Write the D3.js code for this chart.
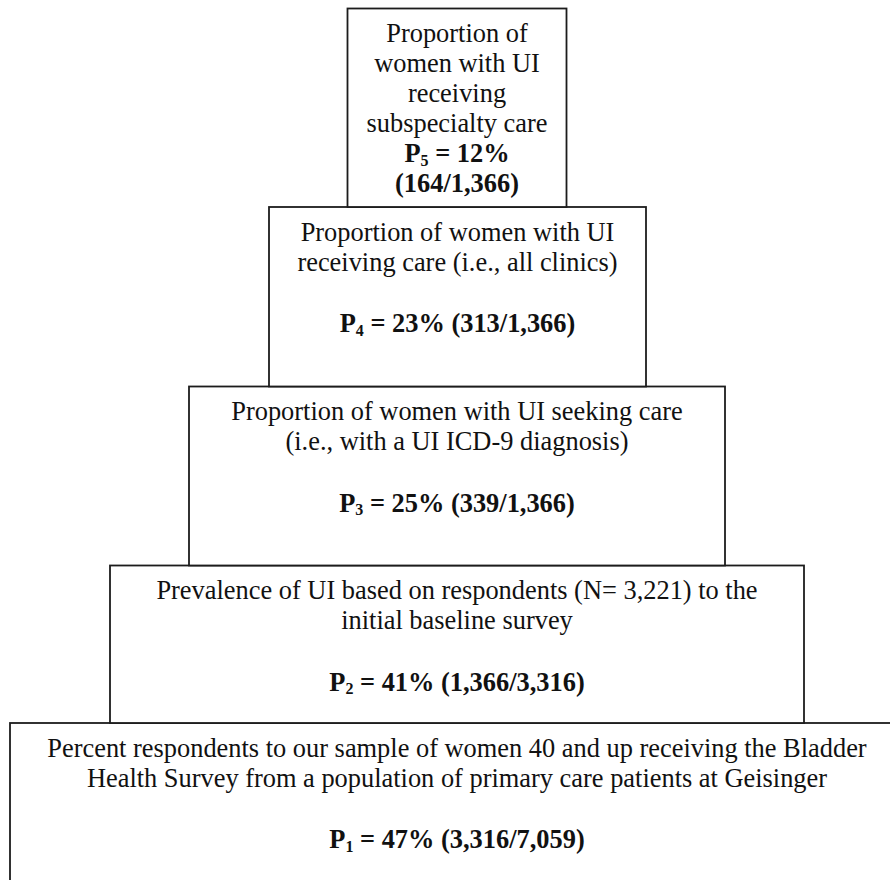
<!DOCTYPE html>
<meta charset="utf-8">
<style>
  body { margin: 0; background: #fff; }
  svg text { font-family: "Liberation Serif", "Times New Roman", serif; fill: #111; }
</style>
<body>
<script src="https://d3js.org/d3.v7.min.js"></script>
<script>
// pyramid of care levels, top (P5) to bottom (P1)
var levelNums = [5, 4, 3, 2, 1];
var percents = [12, 23, 25, 41, 47];
var numerators = ["164", "313", "339", "1,366", "3,316"];
var denominators = ["1,366", "1,366", "1,366", "3,316", "7,059"];
var descriptions = [
  ["Proportion of", "women with UI", "receiving", "subspecialty care"],
  ["Proportion of women with UI", "receiving care (i.e., all clinics)"],
  ["Proportion of women with UI seeking care", "(i.e., with a UI ICD-9 diagnosis)"],
  ["Prevalence of UI based on respondents (N= 3,221) to the", "initial baseline survey"],
  ["Percent respondents to our sample of women 40 and up receiving the Bladder",
   "Health Survey from a population of primary care patients at Geisinger"]
];

// layout (pixels)
var W = 890, H = 880,
    boxLeft = [347.5, 269, 189, 110, 10],
    boxRight = [566.5, 646, 725, 804, 905],
    boxTop = [8.5, 207, 386.5, 565.5, 723],
    bottom = 900,
    lineH = 30,
    firstLine = 33.5,
    fontSize = 26.4;

var svg = d3.select("body").append("svg")
  .attr("width", W)
  .attr("height", H);

var boxes = levelNums.map(function(n, i){
  return {
    n: n, pct: percents[i], num: numerators[i], den: denominators[i],
    desc: descriptions[i],
    x0: boxLeft[i], x1: boxRight[i],
    y0: boxTop[i], y1: i < levelNums.length - 1 ? boxTop[i + 1] : bottom
  };
});

// draw bottom boxes first so upper ones sit over the shared edges
var g = svg.selectAll("g.box").data(boxes.slice().reverse()).enter()
  .append("g").attr("class", "box");

g.append("rect")
  .attr("x", function(d){ return d.x0; })
  .attr("y", function(d){ return d.y0; })
  .attr("width", function(d){ return d.x1 - d.x0; })
  .attr("height", function(d){ return d.y1 - d.y0; })
  .attr("fill", "#fff")
  .attr("stroke", "#1c1c1c")
  .attr("stroke-width", 1.8);

g.each(function(d){
  var cx = (d.x0 + Math.min(d.x1, 904)) / 2;
  var sel = d3.select(this);
  d.desc.forEach(function(line, k){
    sel.append("text")
      .attr("x", cx)
      .attr("y", d.y0 + firstLine + k * lineH)
      .attr("text-anchor", "middle")
      .attr("font-size", fontSize)
      .text(line);
  });
  // value line(s)
  var compact = d.n === 5;
  var vy = compact ? d.y0 + firstLine + d.desc.length * lineH
                   : d.y0 + firstLine + (d.desc.length + 1) * lineH + 1.5;
  var t = sel.append("text")
    .attr("x", cx)
    .attr("y", vy)
    .attr("text-anchor", "middle")
    .attr("font-size", fontSize)
    .attr("font-weight", "bold");
  t.append("tspan").text("P");
  t.append("tspan").attr("font-size", 16).attr("dy", 3.5).text(d.n);
  t.append("tspan").attr("dy", -3.5).text(" = " + d.pct + "%" + (compact ? "" : " (" + d.num + "/" + d.den + ")"));
  if (compact) {
    sel.append("text")
      .attr("x", cx)
      .attr("y", vy + lineH)
      .attr("text-anchor", "middle")
      .attr("font-size", fontSize)
      .attr("font-weight", "bold")
      .text("(" + d.num + "/" + d.den + ")");
  }
});
</script>
</body>
